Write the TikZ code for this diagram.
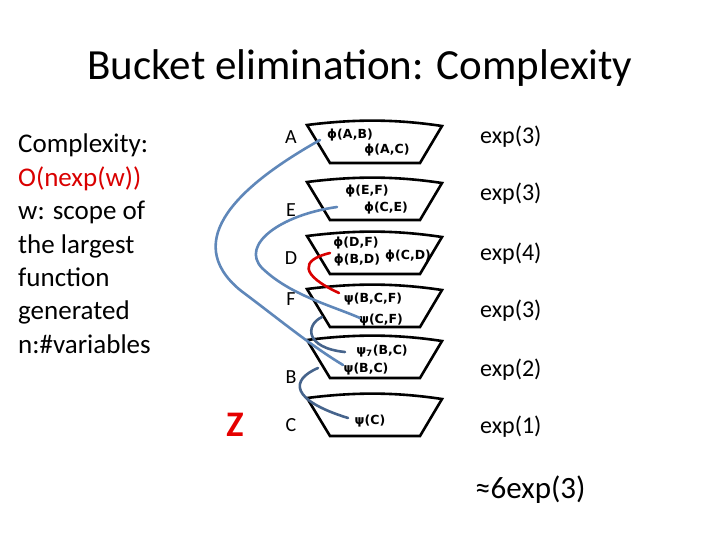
\documentclass[tikz,border=0pt]{standalone}
\usepackage{fontspec}
\setmainfont{Carlito}
\newfontfamily\djvfont{DejaVu Sans}
\begin{document}
\begin{tikzpicture}[x=1pt,y=-1pt,
  bucket/.style={draw=black,line width=2.6pt,line join=miter},
  lbl/.style={font=\djvfont\bfseries\fontsize{12.5}{12.5}\selectfont,inner sep=0pt},
  var/.style={font=\fontsize{20}{20}\selectfont,inner sep=0pt},
  expt/.style={font=\fontsize{24}{24}\selectfont,inner sep=0pt,anchor=west},
  link/.style={line width=2.6pt,line cap=round}]
\useasboundingbox (0,0) rectangle (720,540);
\definecolor{lb}{RGB}{95,135,185}
\definecolor{db}{RGB}{70,100,140}
\node[font=\fontsize{43}{43}\selectfont] (title) at (360,68) {Bucket elimination: Complexity};
\node[anchor=north west,align=left,font=\fontsize{27}{33.4}\selectfont,inner sep=0pt] (left) at (18,134)
 {Complexity:\\\textcolor{red!85!black}{O(nexp(w))}\\w: scope of\\the largest\\function\\generated\\n:\#variables};
\node[font=\bfseries\fontsize{36}{36}\selectfont,text=red!90!black] (z) at (235,425) {Z};
% buckets
\foreach \n/\yt in {A/125,E/182,D/236,F/289,B/340,C/398}{
  \draw[bucket] (307,\yt) .. controls (355,\yt-6) and (395,\yt-6) .. (442,\yt+1) -- (420,\yt+38) -- (330,\yt+38) -- cycle;
}
\node[var] (vA) at (291,137) {A};
\node[var] (vE) at (291,210) {E};
\node[var] (vD) at (291,258) {D};
\node[var] (vF) at (291,299) {F};
\node[var] (vB) at (291,377) {B};
\node[var] (vC) at (291,425) {C};
\foreach \t/\y in {3/137,3/194,4/254,3/311,2/370,1/427}
  \node[expt] at (480,\y) {exp(\t)};
\node[expt,font=\fontsize{31}{31}\selectfont] (tot) at (475,490) {≈6exp(3)};
% labels
\node[lbl] (ab) at (350,135) {ϕ(A,B)};
\node[lbl] (ac) at (387,150) {ϕ(A,C)};
\node[lbl] (ef) at (367,191) {ϕ(E,F)};
\node[lbl] (ce) at (386,208) {ϕ(C,E)};
\node[lbl] (df) at (356,243) {ϕ(D,F)};
\node[lbl] (bd) at (357,260) {ϕ(B,D)};
\node[lbl] (cd) at (408,256) {ϕ(C,D)};
\node[lbl] (bcf) at (373,299) {ψ(B,C,F)};
\node[lbl] (cf) at (381,320) {ψ(C,F)};
\node[lbl] (b7) at (382,351) {ψ\textsubscript{7}(B,C)};
\node[lbl] (bc) at (366,369) {ψ(B,C)};
\node[lbl] (c) at (370,421) {ψ(C)};
% connectors
\coordinate (a1) at (320,140); \coordinate (a2) at (343,365);
\draw[link,draw=lb] (a1) .. controls (240,185) and (180,240) .. (240,290) .. controls (280,320) and (310,345) .. (a2);
\coordinate (e1) at (337,207); \coordinate (e2) at (360,318);
\draw[link,draw=lb] (e1) .. controls (280,215) and (240,245) .. (262,268) .. controls (290,295) and (330,305) .. (e2);
\coordinate (r1) at (330,253); \coordinate (r2) at (339,293);
\draw[link,draw=red!85!black] (r1) .. controls (300,260) and (300,275) .. (r2);
\coordinate (f1) at (322,317); \coordinate (f2) at (345,352);
\draw[link,draw=db] (f1) .. controls (305,325) and (305,348) .. (f2);
\coordinate (g1) at (318,368); \coordinate (g2) at (348,418);
\draw[link,draw=db] (g1) .. controls (290,380) and (290,400) .. (g2);
\end{tikzpicture}
\end{document}
